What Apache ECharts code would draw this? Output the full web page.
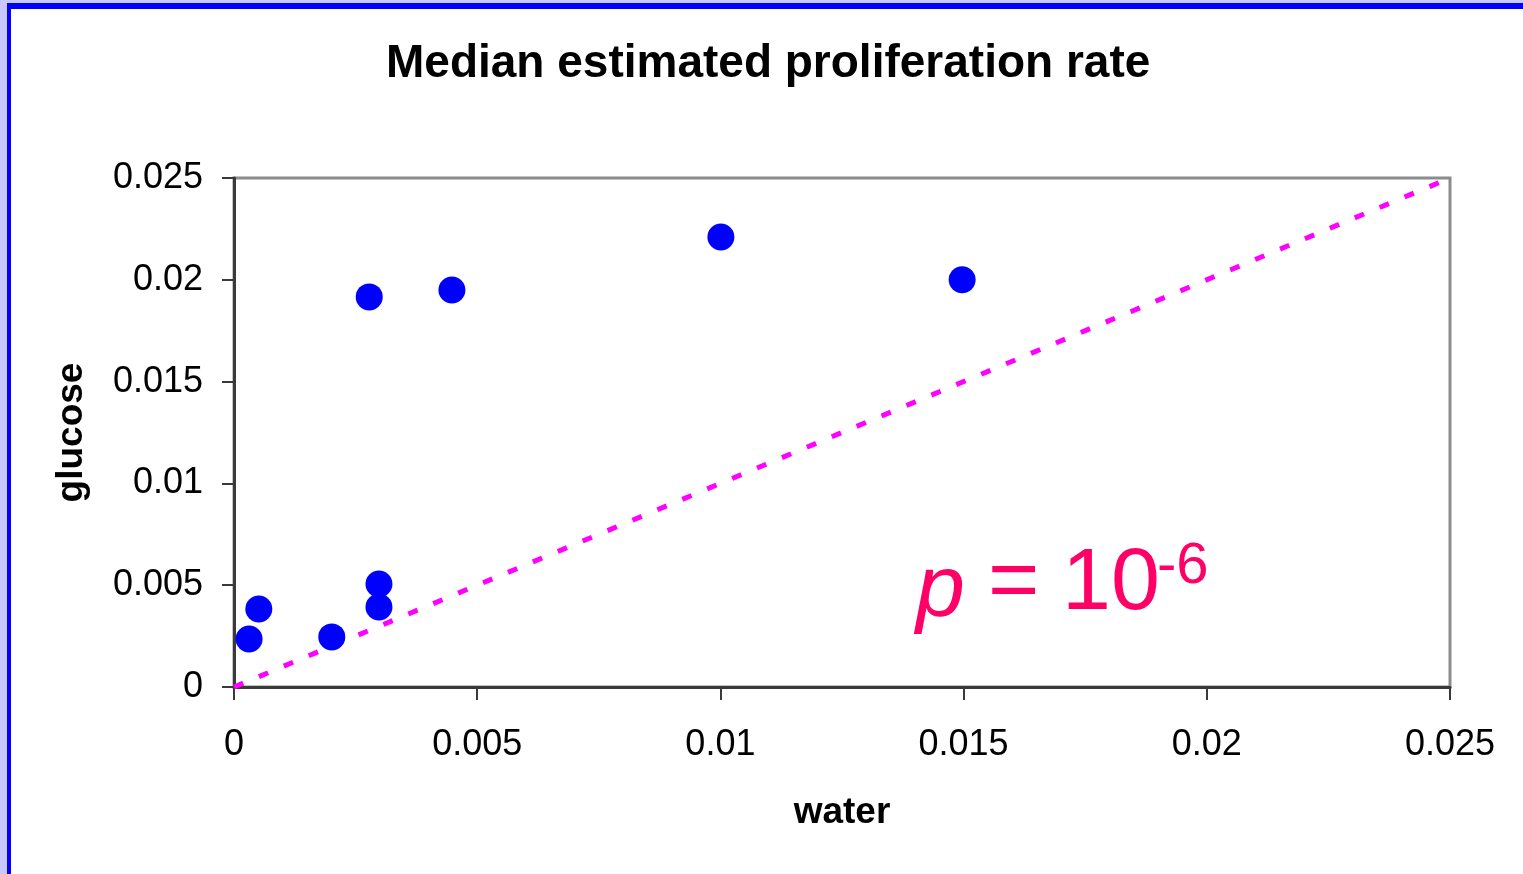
<!DOCTYPE html>
<html>
<head>
<meta charset="utf-8">
<script src="https://cdn.jsdelivr.net/npm/echarts@6/dist/echarts.min.js"></script>
<style>
html,body{margin:0;padding:0;background:#fff;}
#c{width:1523px;height:874px;}
</style>
</head>
<body>
<div id="c"></div>
<script>
var waterValues = [0.00031, 0.00051, 0.00201, 0.00298, 0.00298, 0.00278, 0.00448, 0.01001, 0.01497];
var glucoseValues = [0.00236, 0.00383, 0.00246, 0.00506, 0.00393, 0.01916, 0.0195, 0.0221, 0.0200];
var refLineX = [0, 0.025];
var refLineY = [0, 0.025];
var tickLabels = ['0', '0.005', '0.01', '0.015', '0.02', '0.025'];

var points = waterValues.map(function (w, i) { return [w, glucoseValues[i]]; });
var refLine = refLineX.map(function (x, i) { return [x, refLineY[i]]; });

var chart = echarts.init(document.getElementById('c'));
var font = 'Liberation Sans, Arial, sans-serif';
chart.setOption({
  animation: false,
  backgroundColor: '#ffffff',
  title: {
    text: 'Median estimated proliferation rate',
    left: 381,
    top: 36,
    textStyle: { fontFamily: font, fontSize: 46, fontWeight: 'bold', color: '#000' }
  },
  grid: {
    left: 234, top: 178, width: 1216, height: 509,
    show: true, borderColor: '#8c8c8c', borderWidth: 3, backgroundColor: 'transparent'
  },
  xAxis: {
    type: 'value', min: 0, max: 0.025, interval: 0.005,
    name: 'water', nameLocation: 'middle', nameGap: 107,
    nameTextStyle: { fontFamily: font, fontSize: 37, fontWeight: 'bold', color: '#000' },
    axisLine: { show: true, onZero: false, lineStyle: { color: '#3a3a3a', width: 3 } },
    axisTick: { show: true, length: 13, lineStyle: { color: '#3a3a3a', width: 2 } },
    axisLabel: {
      margin: 40, fontFamily: font, fontSize: 36, color: '#000',
      formatter: function (v) { return tickLabels[Math.round(v / 0.005)]; }
    },
    splitLine: { show: false }
  },
  yAxis: {
    type: 'value', min: 0, max: 0.025, interval: 0.005,
    name: 'glucose', nameLocation: 'middle', nameGap: 144, nameRotate: 90,
    nameTextStyle: { fontFamily: font, fontSize: 37, fontWeight: 'bold', color: '#000' },
    axisLine: { show: true, onZero: false, lineStyle: { color: '#3a3a3a', width: 3 } },
    axisTick: { show: true, length: 12, lineStyle: { color: '#3a3a3a', width: 2 } },
    axisLabel: {
      margin: 31, fontFamily: font, fontSize: 36, color: '#000',
      formatter: function (v) { return tickLabels[Math.round(v / 0.005)]; }
    },
    splitLine: { show: false }
  },
  series: [
    {
      type: 'line', data: refLine, symbol: 'none', silent: true, z: 1,
      lineStyle: { color: '#ff00ff', width: 5, type: [10, 17] }
    },
    {
      type: 'scatter', data: points, symbol: 'circle', symbolSize: 27, z: 2,
      itemStyle: { color: '#0000ff', opacity: 1 }
    }
  ],
  graphic: [
    { type: 'rect', shape: { x: 0, y: 0, width: 1523, height: 3 }, style: { fill: '#c8c8ff' }, z: 100 },
    { type: 'rect', shape: { x: 0, y: 0, width: 7, height: 874 }, style: { fill: '#c8c8ff' }, z: 100 },
    { type: 'rect', shape: { x: 7, y: 3, width: 1516, height: 6 }, style: { fill: '#0000ff' }, z: 101 },
    { type: 'rect', shape: { x: 7, y: 3, width: 4, height: 871 }, style: { fill: '#0000ff' }, z: 101 },
    { type: 'text', left: 916, top: 548, z: 50,
      style: { text: 'p', fontFamily: font, fontStyle: 'italic', fontSize: 88, fill: '#ff0066' } },
    { type: 'text', left: 988, top: 541, z: 50,
      style: { text: '=', fontFamily: font, fontSize: 88, fill: '#ff0066' } },
    { type: 'text', left: 1062, top: 541, z: 50,
      style: { text: '10', fontFamily: font, fontSize: 88, fill: '#ff0066' } },
    { type: 'text', left: 1157, top: 538, z: 50,
      style: { text: '-6', fontFamily: font, fontSize: 58, fill: '#ff0066' } }
  ]
});
</script>
</body>
</html>
